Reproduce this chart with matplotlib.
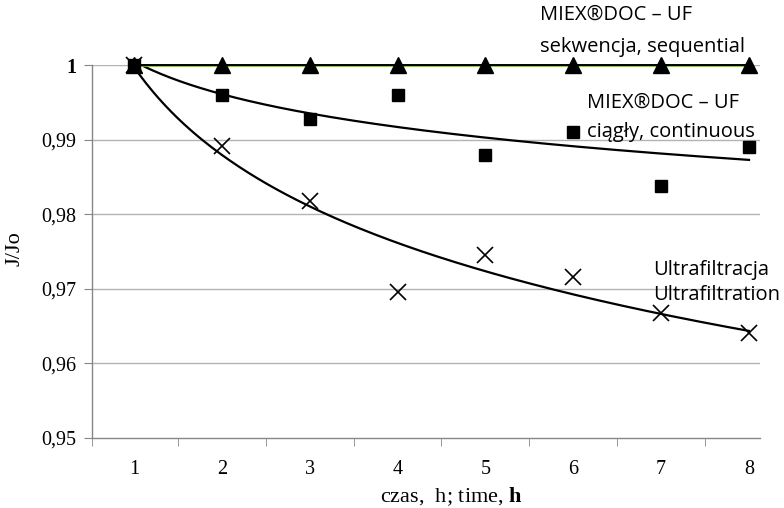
import matplotlib.pyplot as plt
import matplotlib.transforms as mtransforms
import numpy as np

# czas, h
hours = [1, 2, 3, 4, 5, 6, 7, 8]

# J/Jo values
seq = [1.0, 1.0, 1.0, 1.0, 1.0, 1.0, 1.0, 1.0]
cont = [1.0, 0.996, 0.9928, 0.996, 0.988, 0.991, 0.9838, 0.989]
uf = [1.0, 0.9891, 0.9818, 0.9696, 0.9745, 0.9716, 0.9668, 0.9641]

y_ticks = [0.95, 0.96, 0.97, 0.98, 0.99, 1.0]
y_labels = ["0,95", "0,96", "0,97", "0,98", "0,99", "1"]

serif = "Liberation Serif"
sans = "Open Sans"

plt.rcParams["mathtext.fontset"] = "custom"
plt.rcParams["mathtext.rm"] = "Liberation Serif"
plt.rcParams["mathtext.bf"] = "Liberation Serif:bold"


def log_trend(x, y):
    """Excel-style logarithmic trendline."""
    b, a = np.polyfit(np.log(x), y, 1)
    xs = np.linspace(min(x), max(x), 200)
    return xs, a + b * np.log(xs)


fig = plt.figure(figsize=(7.84, 5.08), dpi=100)
ax = fig.add_axes([0.1173, 0.1378, 0.8521, 0.7342])

x0, x1 = 0.522, 8.125
ax.set_xlim(x0, x1)
ax.set_ylim(0.95, 1.0)

grid_c = "#b3b3b3"
spine_c = "#868686"
for yv in y_ticks[1:]:
    ax.axhline(yv, color=grid_c, lw=1.0, zorder=0)

# trendlines
xs, ys = log_trend(hours, uf)
ax.plot(xs, ys, color="black", lw=1.6, zorder=2)
xs, ys = log_trend(hours, cont)
ax.plot(xs, ys, color="black", lw=1.6, zorder=2)
ax.plot([hours[0], hours[-1]], [seq[0], seq[-1]], color="#66cc00", lw=1.2,
        zorder=2, clip_on=False,
        transform=mtransforms.offset_copy(ax.transData, fig=fig, y=-0.8, units="points"))
ax.plot([hours[0], hours[-1]], [seq[0], seq[-1]], color="black", lw=1.4,
        zorder=2, clip_on=False,
        transform=mtransforms.offset_copy(ax.transData, fig=fig, y=0.3, units="points"))

# markers
ax.plot(hours, uf, ls="none", marker="x", ms=11, mew=1.2, color="black",
        zorder=3, clip_on=False)
ax.plot(hours, cont, ls="none", marker="s", ms=8, color="black",
        zorder=3, clip_on=False)
ax.plot(hours, seq, ls="none", marker="^", ms=11, color="black",
        zorder=4, clip_on=False)

# axes styling
for s in ["top", "right"]:
    ax.spines[s].set_visible(False)
for s in ["left", "bottom"]:
    ax.spines[s].set_color(spine_c)
    ax.spines[s].set_linewidth(1.0)

ax.set_yticks(y_ticks)
ax.set_yticklabels(y_labels, fontfamily=serif, fontsize=14.5)
for lbl in ax.get_yticklabels():
    if lbl.get_text() == "1":
        lbl.set_fontweight("bold")
ax.tick_params(axis="y", length=6, color=spine_c, pad=5)

ax.set_xticks(hours)
ax.set_xticklabels([str(h) for h in hours], fontfamily=serif, fontsize=14.5)
ax.set_xticks([x0] + [h + 0.5 for h in hours[:-1]], minor=True)
ax.tick_params(axis="x", which="major", length=0, pad=16)
ax.tick_params(axis="x", which="minor", length=6, color=spine_c)

# axis titles
fig.text(15 / 784, 1 - 249 / 508, "J/Jo", fontfamily=serif, fontsize=16,
         rotation=90, ha="center", va="center")
fig.text(451 / 784, 1 - 497 / 508, r"czas,  h; time, $\mathbf{h}$",
         fontfamily=serif, fontsize=16, ha="center", va="center")

# series labels
labels = [
    ("MIEX\u00aeDOC \u2013 UF", 540, 493),
    ("sekwencja, sequential", 540, 461),
    ("MIEX\u00aeDOC \u2013 UF", 587, 405),
    ("ci\u0105g\u0142y, continuous", 587, 376),
    ("Ultrafiltracja", 653, 238),
    ("Ultrafiltration", 653, 213),
]
for txt, px, py in labels:
    ax.annotate(txt, xy=(px, py), xycoords="figure pixels",
                fontfamily=sans, fontsize=14.5, va="center", ha="left")

fig.savefig("out.png", dpi=100)
